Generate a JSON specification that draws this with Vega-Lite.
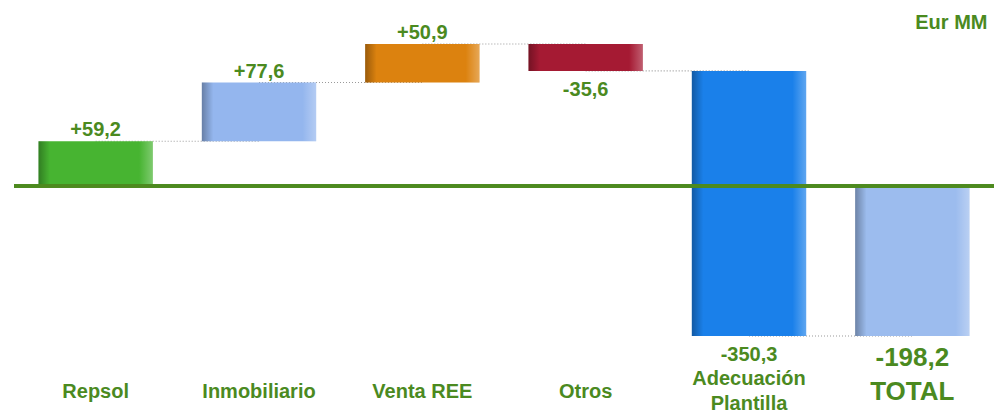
{
  "$schema": "https://vega.github.io/schema/vega-lite/v6.json",
  "autosize": {"type": "none"},
  "padding": {"left": 14, "top": 44, "right": 0, "bottom": 78},
  "width": 980,
  "height": 292,
  "background": "white",
  "config": {"view": {"stroke": null}, "font": "Liberation Sans"},
  "title": {"text": "Eur MM", "anchor": "end", "fontSize": 20, "fontWeight": "bold", "color": "#4b8a1f", "font": "Liberation Sans", "offset": -10, "dx": -8},
  "datasets": {
    "bars": [
      {"category": "Repsol", "start": 0, "end": 59.2, "label": "+59,2"},
      {"category": "Inmobiliario", "start": 59.2, "end": 136.8, "label": "+77,6"},
      {"category": "Venta REE", "start": 136.8, "end": 187.7, "label": "+50,9"},
      {"category": "Otros", "start": 187.7, "end": 152.1, "label": "-35,6"},
      {"category": "Adecuación Plantilla", "start": 152.1, "end": -198.2, "label": "-350,3"},
      {"category": "TOTAL", "start": 0, "end": -198.2, "label": "-198,2"}
    ],
    "links": [
      {"link": 1, "category": "Repsol", "level": 59.2},
      {"link": 1, "category": "Inmobiliario", "level": 59.2},
      {"link": 2, "category": "Inmobiliario", "level": 136.8},
      {"link": 2, "category": "Venta REE", "level": 136.8},
      {"link": 3, "category": "Venta REE", "level": 187.7},
      {"link": 3, "category": "Otros", "level": 187.7},
      {"link": 4, "category": "Otros", "level": 152.1},
      {"link": 4, "category": "Adecuación Plantilla", "level": 152.1},
      {"link": 5, "category": "Adecuación Plantilla", "level": -198.2},
      {"link": 5, "category": "TOTAL", "level": -198.2}
    ]
  },
  "encoding": {
    "x": {
      "field": "category", "type": "nominal", "sort": ["Repsol", "Inmobiliario", "Venta REE", "Otros", "Adecuación Plantilla", "TOTAL"],
      "scale": {"paddingInner": 0.3, "paddingOuter": 0.15},
      "axis": {
        "title": null, "domain": false, "ticks": false, "labelAngle": 0,
        "labelFont": "Liberation Sans", "labelFontWeight": "bold",
        "labelFontSize": {"condition": {"test": "datum.value == 'TOTAL'", "value": 26}, "value": 20},
        "labelColor": "#4b8a1f", "labelBaseline": "middle",
        "labelPadding": {"condition": {"test": "datum.value == 'Adecuación Plantilla'", "value": 42}, "value": 55},
        "labelLineHeight": 25,
        "labelExpr": "datum.value == 'Adecuación Plantilla' ? ['Adecuación', 'Plantilla'] : datum.value"
      }
    }
  },
  "layer": [
    {
      "data": {"name": "links"},
      "mark": {"type": "line", "strokeDash": [1, 2], "color": "#9a9a9a", "strokeWidth": 1.2},
      "encoding": {
        "y": {"field": "level", "type": "quantitative", "scale": {"domain": [-198.2, 187.7], "nice": false, "zero": false}, "axis": null},
        "detail": {"field": "link", "type": "nominal"}
      }
    },
    {
      "data": {"name": "bars"},
      "mark": {"type": "bar"},
      "encoding": {
        "y": {"field": "start", "type": "quantitative"},
        "y2": {"field": "end"},
        "color": {
          "field": "category", "type": "nominal", "legend": null,
          "scale": {
            "domain": ["Repsol", "Inmobiliario", "Venta REE", "Otros", "Adecuación Plantilla", "TOTAL"],
            "range": ["#47b431", "#94b6ee", "#dc820f", "#a51a33", "#1a80ea", "#9cbcee"]
          }
        }
      }
    },
    {
      "data": {"name": "bars"},
      "mark": {
        "type": "bar",
        "color": {
          "gradient": "linear", "x1": 0, "x2": 1, "y1": 0, "y2": 0,
          "stops": [
            {"offset": 0, "color": "rgba(0,0,0,0.3)"},
            {"offset": 0.1, "color": "rgba(0,0,0,0)"},
            {"offset": 0.88, "color": "rgba(255,255,255,0)"},
            {"offset": 1, "color": "rgba(255,255,255,0.3)"}
          ]
        }
      },
      "encoding": {
        "y": {"field": "start", "type": "quantitative"},
        "y2": {"field": "end"}
      }
    },
    {
      "data": {"name": "bars"},
      "mark": {"type": "rule", "color": "#4d8a1e", "strokeWidth": 3},
      "encoding": {"x": null, "y": {"datum": 0, "type": "quantitative"}}
    },
    {
      "data": {"name": "bars"},
      "transform": [{"filter": "datum.end > datum.start"}],
      "mark": {"type": "text", "baseline": "alphabetic", "dy": -5, "fontWeight": "bold", "fontSize": 20, "color": "#4b8a1f", "font": "Liberation Sans"},
      "encoding": {
        "y": {"field": "end", "type": "quantitative"},
        "text": {"field": "label"}
      }
    },
    {
      "data": {"name": "bars"},
      "transform": [{"filter": "datum.end < datum.start"}],
      "mark": {"type": "text", "baseline": "top", "dy": 9, "fontWeight": "bold", "color": "#4b8a1f", "font": "Liberation Sans"},
      "encoding": {
        "y": {"field": "end", "type": "quantitative"},
        "text": {"field": "label"},
        "size": {"condition": {"test": "datum.category == 'TOTAL'", "value": 26}, "value": 20}
      }
    }
  ]
}
